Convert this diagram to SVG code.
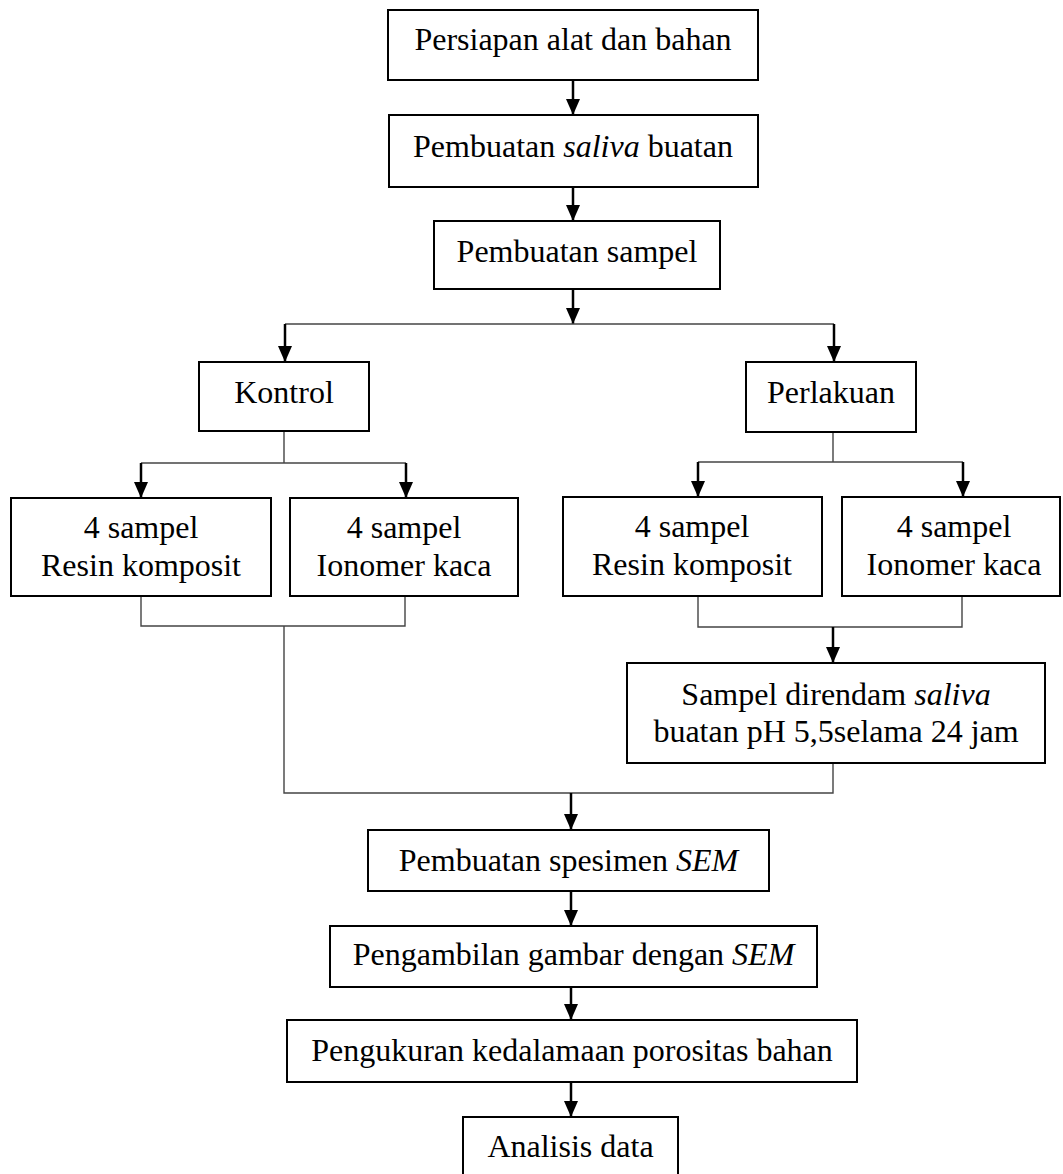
<svg xmlns="http://www.w3.org/2000/svg" width="1063" height="1174" viewBox="0 0 1063 1174">
<defs>
<marker id="ah" markerUnits="userSpaceOnUse" markerWidth="17" markerHeight="15" refX="16" refY="7" orient="auto">
<path d="M0,0 L16,7 L0,14 z" fill="#000"/>
</marker>
<style>
.box{fill:#fff;stroke:#000;stroke-width:2}
.t{font-family:"Liberation Serif","Times New Roman",serif;font-size:32px;fill:#000;text-anchor:middle}
.i{font-style:italic}
.arr{stroke:#000;stroke-width:2.5;fill:none;marker-end:url(#ah)}
.ln{stroke:#444;stroke-width:1.4;fill:none}
</style>
</defs>
<rect width="1063" height="1174" fill="#fff"/>
<g id="connectors">
<line class="arr" x1="573" y1="80" x2="573" y2="115"/>
<line class="arr" x1="573" y1="187" x2="573" y2="221"/>
<line class="arr" x1="573" y1="289" x2="573" y2="324"/>
<polyline class="ln" points="285,324 834,324"/>
<polyline class="arr" points="285,324 285,362"/>
<polyline class="arr" points="834,324 834,362"/>
<polyline class="ln" points="284,431 284,463"/>
<polyline class="ln" points="141,463 406,463"/>
<polyline class="arr" points="141,463 141,498"/>
<polyline class="arr" points="406,463 406,498"/>
<polyline class="ln" points="833,432 833,462"/>
<polyline class="ln" points="698,462 963,462"/>
<polyline class="arr" points="698,462 698,497"/>
<polyline class="arr" points="963,462 963,497"/>
<polyline class="ln" points="141,596 141,626 405,626 405,596"/>
<polyline class="ln" points="284,626 284,793 833,793 833,763"/>
<polyline class="ln" points="698,596 698,627 962,627 962,596"/>
<polyline class="arr" points="833,627 833,663"/>
<polyline class="arr" points="571,793 571,830"/>
<line class="arr" x1="571" y1="891" x2="571" y2="926"/>
<line class="arr" x1="571" y1="987" x2="571" y2="1020"/>
<line class="arr" x1="571" y1="1082" x2="571" y2="1117"/>
</g>
<g id="n1"><rect class="box" x="388" y="10" width="370" height="70"/><text class="t" x="573" y="50">Persiapan alat dan bahan</text></g>
<g id="n2"><rect class="box" x="389" y="115" width="369" height="72"/><text class="t" x="573" y="157">Pembuatan <tspan class="i">saliva</tspan> buatan</text></g>
<g id="n3"><rect class="box" x="434" y="221" width="286" height="68"/><text class="t" x="577" y="262">Pembuatan sampel</text></g>
<g id="kontrol"><rect class="box" x="199" y="362" width="170" height="69"/><text class="t" x="284" y="403">Kontrol</text></g>
<g id="perlakuan"><rect class="box" x="746" y="362" width="170" height="70"/><text class="t" x="831" y="403">Perlakuan</text></g>
<g id="k-rk"><rect class="box" x="11" y="498" width="260" height="98"/><text class="t" x="141" y="538">4 sampel</text><text class="t" x="141" y="576">Resin komposit</text></g>
<g id="k-ik"><rect class="box" x="290" y="498" width="228" height="98"/><text class="t" x="404" y="538">4 sampel</text><text class="t" x="404" y="576">Ionomer kaca</text></g>
<g id="p-rk"><rect class="box" x="563" y="497" width="259" height="99"/><text class="t" x="692" y="537">4 sampel</text><text class="t" x="692" y="575">Resin komposit</text></g>
<g id="p-ik"><rect class="box" x="842" y="497" width="218" height="99"/><text class="t" x="954" y="537">4 sampel</text><text class="t" x="954" y="575">Ionomer kaca</text></g>
<g id="rendam"><rect class="box" x="627" y="663" width="418" height="100"/><text class="t" x="836" y="705">Sampel direndam <tspan class="i">saliva</tspan></text><text class="t" x="836" y="742">buatan pH 5,5selama 24 jam</text></g>
<g id="spesimen"><rect class="box" x="368" y="830" width="401" height="61"/><text class="t" x="568.5" y="871">Pembuatan spesimen <tspan class="i">SEM</tspan></text></g>
<g id="gambar"><rect class="box" x="330" y="926" width="487" height="61"/><text class="t" x="573.5" y="965">Pengambilan gambar dengan <tspan class="i">SEM</tspan></text></g>
<g id="ukur"><rect class="box" x="287" y="1020" width="570" height="62"/><text class="t" x="572" y="1061">Pengukuran kedalamaan porositas bahan</text></g>
<g id="analisis"><rect class="box" x="463" y="1117" width="215" height="62"/><text class="t" x="570.5" y="1157">Analisis data</text></g>
</svg>
